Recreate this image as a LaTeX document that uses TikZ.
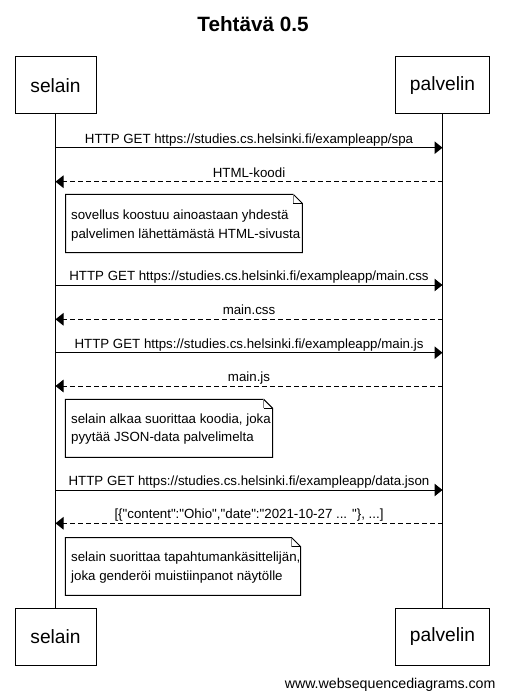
\documentclass[tikz,border=0pt]{standalone}
\usepackage{fontspec}
\setmainfont{Liberation Sans}
\usetikzlibrary{arrows.meta}
\tikzset{
  actor/.style={draw, line width=1pt, fill=white, font=\fontsize{19.2}{22}\selectfont, inner sep=0pt},
  lifeline/.style={line width=1pt},
  msg/.style={line width=1pt, -{Triangle[length=8pt,width=12.5pt]}},
  reply/.style={msg, dash pattern=on 5pt off 3pt},
  msglabel/.style={font=\fontsize{13.3}{16}\selectfont, anchor=base, inner sep=0pt},
  notetext/.style={font=\fontsize{13.3}{18.5}\selectfont, align=left, anchor=west, inner sep=0pt},
  noteline/.style={line width=1pt},
}
\begin{document}
\begin{tikzpicture}[x=1pt,y=-1pt]
\useasboundingbox (0,0) rectangle (504,700);
\node[font=\bfseries\fontsize{20.7}{24}\selectfont, anchor=base] (title) at (253,31.7) {Tehtävä 0.5};
% actors
\node[actor, minimum width=81pt, minimum height=57pt] (s1) at (55.5,85.5) {selain};
\node[actor, minimum width=94pt, minimum height=57pt] (p1) at (442.5,85.5) {palvelin};
\node[actor, minimum width=81pt, minimum height=56.5pt] (s2) at (55.5,637) {selain};
\node[actor, minimum width=94pt, minimum height=56.5pt] (p2) at (442.5,637) {palvelin};
\draw[lifeline] (s1.south) -- (s2.north);
\draw[lifeline] (p1.south) -- (p2.north);
% message end points
\foreach \i/\y in {1/147.7,2/181.7,3/285,4/319.3,5/352.7,6/386,7/490,8/523.3}{
  \coordinate (s\i) at (55.5,\y);
  \coordinate (p\i) at (442.5,\y);
}
\draw[msg] (s1) -- node[msglabel, yshift=4.4pt] (l1) {HTTP GET https://studies.cs.helsinki.fi/exampleapp/spa} (p1);
\draw[reply] (p2) -- node[msglabel, yshift=4.4pt] (l2) {HTML-koodi} (s2);
\draw[msg] (s3) -- node[msglabel, yshift=4.4pt] (l3) {HTTP GET https://studies.cs.helsinki.fi/exampleapp/main.css} (p3);
\draw[reply] (p4) -- node[msglabel, yshift=4.4pt] (l4) {main.css} (s4);
\draw[msg] (s5) -- node[msglabel, yshift=4.4pt] (l5) {HTTP GET https://studies.cs.helsinki.fi/exampleapp/main.js} (p5);
\draw[reply] (p6) -- node[msglabel, yshift=4.4pt] (l6) {main.js} (s6);
\draw[msg] (s7) -- node[msglabel, yshift=4.4pt] (l7) {HTTP GET https://studies.cs.helsinki.fi/exampleapp/data.json} (p7);
\draw[reply] (p8) -- node[msglabel, yshift=4.4pt] (l8) {[\{\textquotedbl content\textquotedbl:\textquotedbl Ohio\textquotedbl,\textquotedbl date\textquotedbl:\textquotedbl 2021-10-27 ... \textquotedbl\}, ...]} (s8);
% notes
\foreach \n/\xa/\ya/\xb/\yb in {n1/65.7/194.3/302.3/252.7, n2/65.3/399.3/272.7/457.3, n3/65.3/537.7/300.7/595.3}{
  \draw[noteline, fill=white] (\xa,\ya) -- (\xb-9,\ya) -- (\xb,\ya+9) -- (\xb,\yb) -- (\xa,\yb) -- cycle;
  \draw[noteline, gray] (\xb-9,\ya) -- (\xb-9,\ya+9);
  \draw[noteline] (\xb-9,\ya+9) -- (\xb,\ya+9);
}
\node[notetext] (t1) at (71,225.8) {sovellus koostuu ainoastaan yhdestä\\palvelimen lähettämästä HTML-sivusta};
\node[notetext] (t2) at (71,429.3) {selain alkaa suorittaa koodia, joka\\pyytää JSON-data palvelimelta};
\node[notetext] (t3) at (71,567.5) {selain suorittaa tapahtumankäsittelijän,\\joka genderöi muistiinpanot näytölle};
\node[font=\fontsize{14.2}{17}\selectfont, anchor=base east, inner sep=0pt] (footer) at (495.7,688.3) {www.websequencediagrams.com};
\end{tikzpicture}
\end{document}
